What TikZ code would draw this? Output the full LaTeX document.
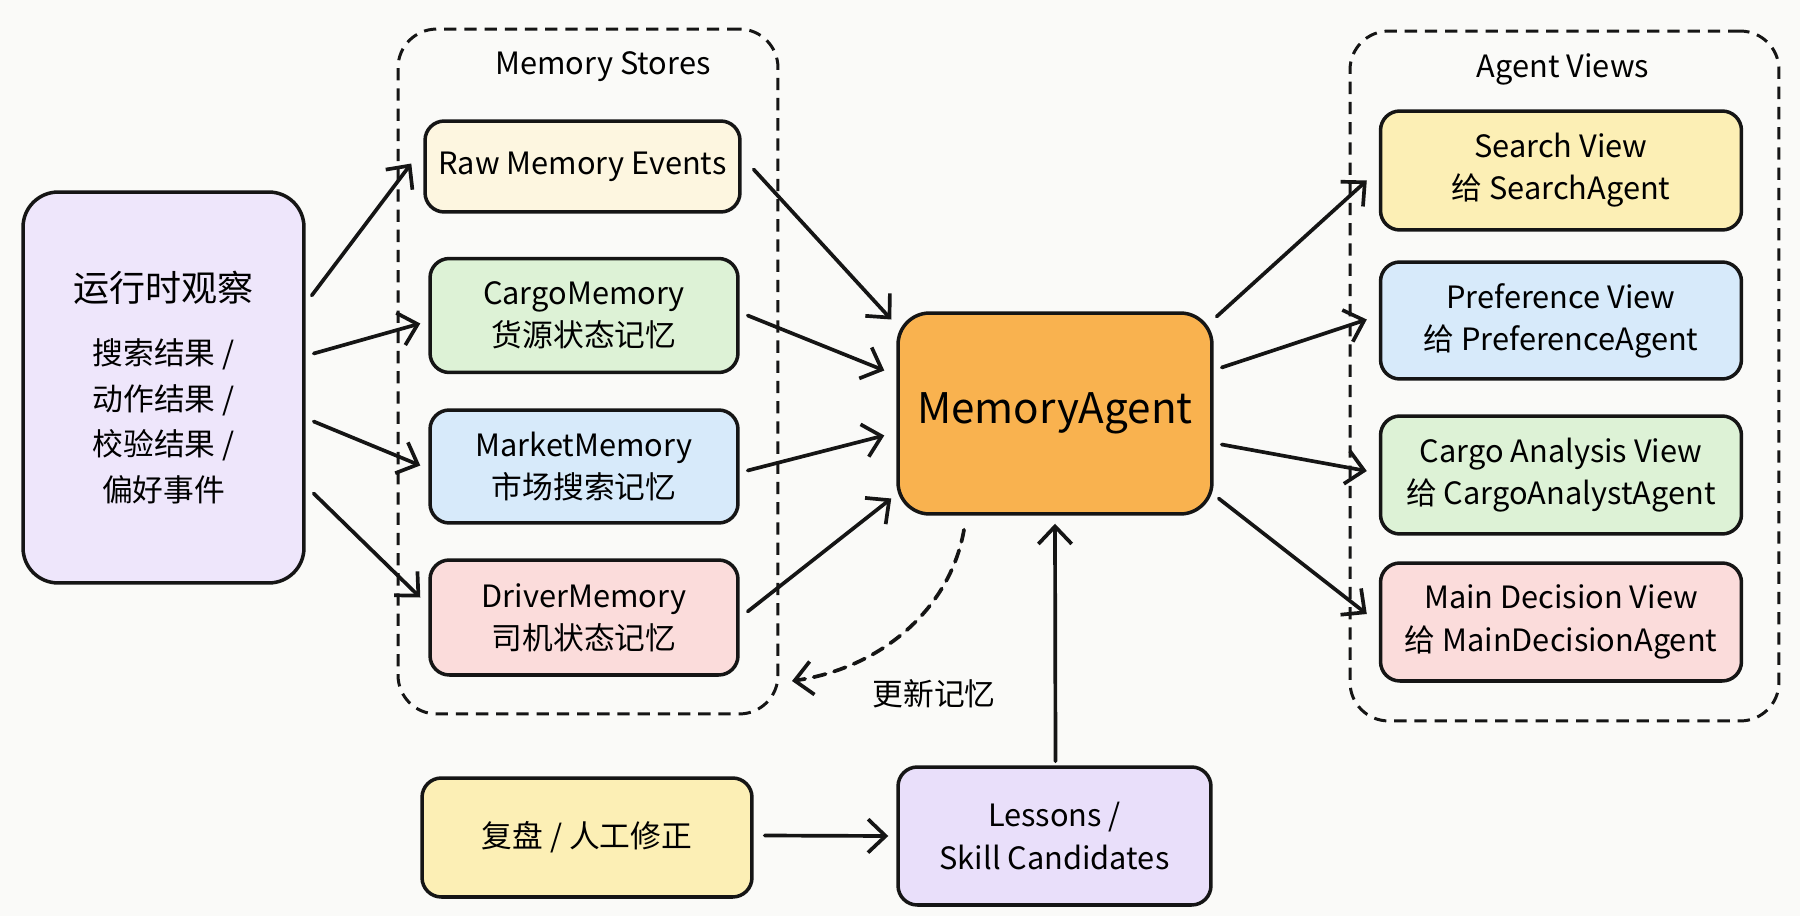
\documentclass[tikz,border=0pt]{standalone}
\usepackage{fontspec}
\setmainfont{Noto Sans CJK SC}
\usetikzlibrary{arrows.meta}

\definecolor{paper}{HTML}{FAFAF8}
\definecolor{inkc}{HTML}{151515}
\definecolor{lavender}{HTML}{EEE6FB}
\definecolor{cream}{HTML}{FDF6E0}
\definecolor{mint}{HTML}{DDF2D6}
\definecolor{sky}{HTML}{D7EAFA}
\definecolor{blush}{HTML}{FBDCDB}
\definecolor{amber}{HTML}{F9B24F}
\definecolor{butter}{HTML}{FCEFB5}
\definecolor{lilac}{HTML}{E9DFFA}

\tikzset{
  card/.style={draw=inkc, line width=2pt, rounded corners=11pt, align=center,
    inner sep=0pt, font=\fontsize{17.5}{24}\selectfont},
  group/.style={draw=inkc, line width=1.7pt, dash pattern=on 7pt off 4.5pt,
    rounded corners=22pt, inner sep=0pt},
  heading/.style={font=\fontsize{17.5}{22}\selectfont, inner sep=0pt},
  flow/.style={draw=inkc, line width=2.1pt, line cap=round,
    -{Straight Barb[length=10pt,width=19pt]}},
  feedback/.style={flow, dash pattern=on 7pt off 5pt}
}

\begin{document}
\begin{tikzpicture}[x=0.02cm, y=-0.02cm]
  % canvas
  \fill[paper] (0,0) rectangle (1800,916);
  \useasboundingbox (0,0) rectangle (1800,916);

  % dashed groups
  \node[group, minimum width=7.6cm, minimum height=13.7cm] (stores) at (588,371.5) {};
  \node[group, minimum width=8.58cm, minimum height=13.8cm] (views) at (1564.5,376) {};
  \node[heading] (storesT) at (603,67) {Memory Stores};
  \node[heading] (viewsT) at (1563,69) {Agent Views};

  % runtime observations
  \node[card, fill=lavender, rounded corners=20pt, minimum width=5.62cm, minimum height=7.82cm]
    (obs) at (163.5,387.5)
    {{\fontsize{20.5}{26}\selectfont 运行时观察}\\[12pt]
     搜索结果 /\\[2pt] 动作结果 /\\[2pt] 校验结果 /\\[2pt] 偏好事件};

  % memory stores
  \node[card, fill=cream, minimum width=6.3cm, minimum height=1.82cm] (raw) at (582.5,166.5) {Raw Memory Events};
  \node[card, fill=mint, minimum width=6.16cm, minimum height=2.28cm] (cargo) at (584,315.5) {CargoMemory\\货源状态记忆};
  \node[card, fill=sky, minimum width=6.16cm, minimum height=2.26cm] (market) at (584,466.5) {MarketMemory\\市场搜索记忆};
  \node[card, fill=blush, minimum width=6.16cm, minimum height=2.3cm] (driver) at (584,617.5) {DriverMemory\\司机状态记忆};

  % central agent
  \node[card, fill=amber, rounded corners=18pt, minimum width=6.28cm, minimum height=4.02cm,
    font=\fontsize{24}{28}\selectfont] (agent) at (1055,413.5) {MemoryAgent};

  % agent views
  \node[card, fill=butter, minimum width=7.22cm, minimum height=2.38cm] (search) at (1561,170.5) {Search View\\给 SearchAgent};
  \node[card, fill=sky, minimum width=7.22cm, minimum height=2.34cm] (pref) at (1561,320.5) {Preference View\\给 PreferenceAgent};
  \node[card, fill=mint, minimum width=7.22cm, minimum height=2.36cm] (cargoA) at (1561,475) {Cargo Analysis View\\给 CargoAnalystAgent};
  \node[card, fill=blush, minimum width=7.22cm, minimum height=2.36cm] (mainV) at (1561,622) {Main Decision View\\给 MainDecisionAgent};

  % review inputs
  \node[card, fill=butter, minimum width=6.6cm, minimum height=2.38cm] (review) at (587,837.5) {复盘 / 人工修正};
  \node[card, fill=lilac, minimum width=6.26cm, minimum height=2.76cm] (lessons) at (1054.5,836) {Lessons /\\Skill Candidates};

  % observations into stores
  \draw[flow] ([shift={(6,-92)}]obs.east) -- ([shift={(-12,-3)}]raw.west);
  \draw[flow] ([shift={(8,-34)}]obs.east) -- ([shift={(-8,8)}]cargo.west);
  \draw[flow] ([shift={(8,34)}]obs.east) -- ([shift={(-8,-1)}]market.west);
  \draw[flow] ([shift={(8,106)}]obs.east) -- ([shift={(-8,-20)}]driver.west);

  % stores into agent
  \draw[flow] ([shift={(12,3)}]raw.east) -- ([shift={(-5,-94)}]agent.west);
  \draw[flow] ([shift={(8,0)}]cargo.east) -- ([shift={(-12,-43)}]agent.west);
  \draw[flow] ([shift={(8,4)}]market.east) -- ([shift={(-12,22)}]agent.west);
  \draw[flow] ([shift={(8,-6)}]driver.east) -- ([shift={(-5,85)}]agent.west);

  % agent out to views
  \draw[flow] ([shift={(3,-97)}]agent.east) -- ([shift={(-12,10)}]search.west);
  \draw[flow] ([shift={(8,-46)}]agent.east) -- ([shift={(-12,-1)}]pref.west);
  \draw[flow] ([shift={(8,31)}]agent.east) -- ([shift={(-12,-4)}]cargoA.west);
  \draw[flow] ([shift={(5,85)}]agent.east) -- ([shift={(-12,-8)}]mainV.west);

  % lessons loop
  \draw[flow] ([shift={(11,-2)}]review.east) -- ([shift={(-8,0)}]lessons.west);
  \draw[flow] ([shift={(1,-4)}]lessons.north) -- ([shift={(0,8)}]agent.south);

  % memory update back into stores
  \coordinate (fb) at (792,681);
  \draw[feedback] ([shift={(-91,14)}]agent.south) .. controls (950,610) and (880,668) .. (fb);
  \node[font=\fontsize{17.5}{22}\selectfont, inner sep=0pt] (fbT) at (934,694) {更新记忆};
\end{tikzpicture}
\end{document}
